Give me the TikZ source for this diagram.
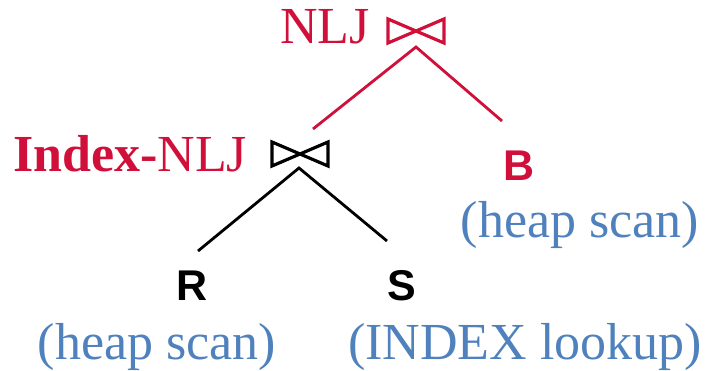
\documentclass[tikz,border=0pt]{standalone}
\usepackage{fontspec}
\setmainfont{Liberation Serif}
\newfontfamily\sansfont{Liberation Sans}
\definecolor{jred}{RGB}{208,16,58}
\definecolor{jblue}{RGB}{79,129,189}
\begin{document}
\begin{tikzpicture}[x=1pt,y=-1pt,
  bowtie/.style={inner sep=0pt,outer sep=0pt,minimum width=56pt,minimum height=24pt},
  tie/.style={line width=3.2pt,line join=miter},
  conn/.style={line width=2.8pt},
  ser/.style={inner sep=0pt,anchor=base,font=\fontsize{52}{60}\selectfont},
  lbl/.style={inner sep=0pt,anchor=base,font=\sansfont\bfseries\fontsize{43}{50}\selectfont}]
\useasboundingbox (0,0) rectangle (711,371);
% top join
\node[inner sep=0pt,anchor=base west,text=jred,font=\fontsize{52}{60}\selectfont] (nlj) at (280,44) {NLJ};
\node[bowtie] (j1) at (416,31) {};
\draw[tie,jred] (j1.north west) -- (j1.south east) -- (j1.north east) -- (j1.south west) -- cycle;
% second join
\node[inner sep=0pt,anchor=base west,text=jred,font=\fontsize{52}{60}\selectfont] (inlj) at (13,172) {\textbf{Index-}NLJ};
\node[bowtie] (j2) at (300,154) {};
\draw[tie,black] (j2.north west) -- (j2.south east) -- (j2.north east) -- (j2.south west) -- cycle;
% leaves
\node[lbl,text=jred] (B) at (519,181) {B};
\node[ser,text=jblue] (Bs) at (580,237) {(heap scan)};
\node[lbl,text=black] (R) at (192,300) {R};
\node[lbl,text=black] (S) at (402,300) {S};
\node[ser,text=jblue] (Rs) at (157,359) {(heap scan)};
\node[ser,text=jblue] (Ss) at (525,359) {(INDEX lookup)};
% connectors
\coordinate (a1) at (416,47);
\coordinate (e1l) at (313,129);
\coordinate (e1r) at (502,121);
\coordinate (a2) at (299,168);
\coordinate (e2l) at (198,251);
\coordinate (e2r) at (387,241);
\draw[conn,jred] (e1l) -- (a1) -- (e1r);
\draw[conn,black] (e2l) -- (a2) -- (e2r);
\end{tikzpicture}
\end{document}
